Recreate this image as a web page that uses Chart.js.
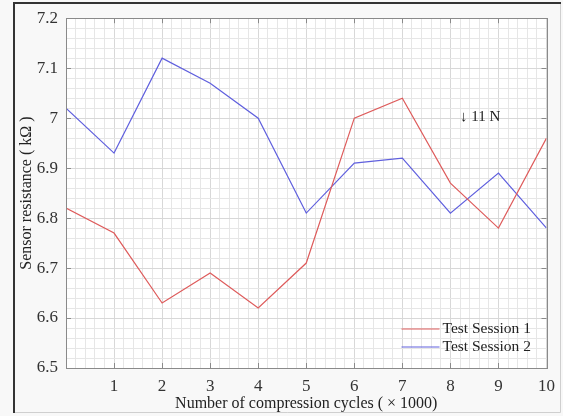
<!DOCTYPE html>
<html>
<head>
<meta charset="utf-8">
<script src="https://cdn.jsdelivr.net/npm/chart.js@4"></script>
<style>
  html, body { margin: 0; padding: 0; background: #f8f8f8; }
  #wrap { width: 563px; height: 416px; position: relative; }
</style>
</head>
<body>
<div id="wrap"><canvas id="chart" width="563" height="416"></canvas></div>
<script>
// compression cycles (x 1000)
const cycles = [0, 1, 2, 3, 4, 5, 6, 7, 8, 9, 10];
const session1 = [6.82, 6.77, 6.63, 6.69, 6.62, 6.71, 7.00, 7.04, 6.87, 6.78, 6.96];
const session2 = [7.02, 6.93, 7.12, 7.07, 7.00, 6.81, 6.91, 6.92, 6.81, 6.89, 6.78];
const seriesNames = ['Test Session 1', 'Test Session 2'];
const seriesColors = ['rgb(222,92,92)', 'rgb(96,96,222)'];
const annotationText = '\u2193 11 N';
const annotationPos = { x: 8.2, y: 7.002 };

const serif = '"Liberation Serif", "Times New Roman", serif';
const boxColor = '#8a8a8a';

// frame, plot background, box, inward ticks, legend and annotation
const decorations = {
  id: 'decorations',
  beforeDraw(chart) {
    const ctx = chart.ctx;
    const a = chart.chartArea;
    ctx.save();
    ctx.fillStyle = '#f8f8f8';
    ctx.fillRect(0, 0, chart.width, chart.height);
    ctx.fillStyle = '#ffffff';
    ctx.fillRect(a.left, a.top, a.right - a.left, a.bottom - a.top);
    // picture frame
    ctx.strokeStyle = '#cfcfcf';
    ctx.lineWidth = 1;
    ctx.beginPath();
    ctx.moveTo(560.5, 3); ctx.lineTo(560.5, 412.5); ctx.lineTo(14, 412.5);
    ctx.stroke();
    ctx.strokeStyle = '#333';
    ctx.lineWidth = 2;
    ctx.beginPath();
    ctx.moveTo(14, 413); ctx.lineTo(14, 3); ctx.lineTo(561, 3);
    ctx.stroke();
    ctx.restore();
  },
  afterDraw(chart) {
    const ctx = chart.ctx;
    const a = chart.chartArea;
    const xs = chart.scales.x, ys = chart.scales.y;
    ctx.save();
    ctx.strokeStyle = boxColor;
    ctx.lineWidth = 1;
    ctx.strokeRect(Math.round(a.left) + 0.5, Math.round(a.top) + 0.5,
      Math.round(a.right - a.left), Math.round(a.bottom - a.top));
    ctx.beginPath();
    for (let v = 1; v < 10; v++) {
      const px = Math.round(xs.getPixelForValue(v)) + 0.5;
      ctx.moveTo(px, a.bottom); ctx.lineTo(px, a.bottom - 5);
      ctx.moveTo(px, a.top); ctx.lineTo(px, a.top + 5);
    }
    for (let k = 66; k <= 71; k++) {
      const py = Math.round(ys.getPixelForValue(k / 10)) + 0.5;
      ctx.moveTo(a.left, py); ctx.lineTo(a.left + 5, py);
      ctx.moveTo(a.right, py); ctx.lineTo(a.right - 5, py);
    }
    ctx.stroke();

    // legend, bottom right inside the axes
    ctx.font = '15.5px ' + serif;
    ctx.textBaseline = 'middle';
    ctx.fillStyle = '#222';
    seriesNames.forEach((name, i) => {
      const y = a.bottom - 39 + i * 18;
      ctx.strokeStyle = seriesColors[i];
      ctx.lineWidth = 1.2;
      ctx.beginPath();
      ctx.moveTo(a.right - 145, y); ctx.lineTo(a.right - 107, y);
      ctx.stroke();
      ctx.fillText(name, a.right - 104, y);
    });

    // load annotation
    ctx.font = '15px ' + serif;
    ctx.fillText(annotationText, xs.getPixelForValue(annotationPos.x), ys.getPixelForValue(annotationPos.y));
    ctx.restore();
  }
};

const isMajor = (v, per) => Math.abs(v * per - Math.round(v * per)) < 1e-6;

new Chart(document.getElementById('chart'), {
  type: 'line',
  data: {
    labels: cycles,
    datasets: [
      { label: seriesNames[0], data: cycles.map((c, i) => ({ x: c, y: session1[i] })),
        borderColor: seriesColors[0], borderWidth: 1.2, pointRadius: 0, tension: 0 },
      { label: seriesNames[1], data: cycles.map((c, i) => ({ x: c, y: session2[i] })),
        borderColor: seriesColors[1], borderWidth: 1.2, pointRadius: 0, tension: 0 }
    ]
  },
  options: {
    responsive: false,
    animation: false,
    layout: { padding: { left: 16, right: 14, top: 15, bottom: 0 } },
    plugins: { legend: { display: false }, tooltip: { enabled: false } },
    scales: {
      x: {
        type: 'linear', min: 0, max: 10,
        afterFit(scale) { scale.height = 48; },
        grid: {
          drawTicks: false,
          color: ctx => isMajor(ctx.tick.value, 1) ? '#d8d8d8' : '#e6e6e6',
          lineWidth: 1
        },
        border: { display: false },
        ticks: {
          stepSize: 0.2, autoSkip: false, maxRotation: 0, padding: 8,
          color: '#333', font: { family: serif, size: 17 },
          callback: v => (isMajor(v, 1) && Math.round(v) !== 0) ? String(Math.round(v)) : ''
        },
        title: {
          display: true, text: 'Number of compression cycles ( \u00d7 1000)',
          color: '#222', font: { family: serif, size: 16 },
          padding: { top: 0, bottom: 3 }
        }
      },
      y: {
        min: 6.5, max: 7.2,
        afterFit(scale) { scale.width = 50; },
        grid: {
          drawTicks: false,
          color: ctx => isMajor(ctx.tick.value, 10) ? '#d8d8d8' : '#e6e6e6',
          lineWidth: 1
        },
        border: { display: false },
        ticks: {
          stepSize: 0.02, autoSkip: false, padding: 8,
          color: '#333', font: { family: serif, size: 17 },
          callback: v => isMajor(v, 10) ? String(Math.round(v * 10) / 10) : ''
        },
        title: {
          display: true, text: 'Sensor resistance ( k\u03a9 )',
          color: '#222', font: { family: serif, size: 16 },
          padding: { top: 1, bottom: 0 }
        }
      }
    }
  },
  plugins: [decorations]
});
</script>
</body>
</html>
